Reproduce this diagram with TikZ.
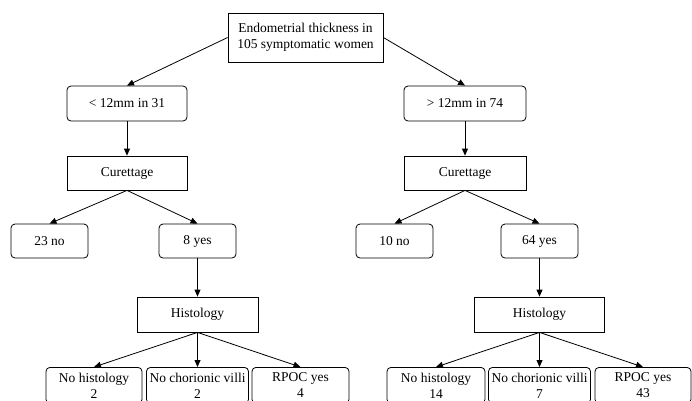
\documentclass[tikz,border=0pt]{standalone}
\usepackage{fontspec}
\setmainfont{Liberation Serif}
\usetikzlibrary{arrows.meta}

\tikzset{
  sqbox/.style={draw, line width=0.8pt, minimum height=35, inner sep=3pt,
    align=center, font=\fontsize{13.5}{16.5}\selectfont},
  rbox/.style={sqbox, rounded corners=4pt},
  low/.style={rbox, anchor=north, minimum height=36, inner ysep=0.5pt,
    font=\fontsize{13.5}{16}\selectfont},
  link/.style={-{Triangle[length=7pt,width=6pt]}, line width=0.8pt}
}

\begin{document}
\begin{tikzpicture}[x=1pt, y=-1pt]
    \clip (0,0) rectangle (692,400);

    % root
    \node[sqbox, minimum width=155, minimum height=49] (top) at (305.5,37.5)
        {Endometrial thickness in\\105 symptomatic women};

    % left branch
    \node[rbox, minimum width=120] (lt) at (127,103.5) {< 12mm in 31};
    \node[sqbox, minimum width=120, minimum height=34] (lcur) at (127,173) {Curettage};
    \node[rbox, minimum width=77, minimum height=34] (lno) at (49.5,241) {23 no};
    \node[rbox, minimum width=77, minimum height=34] (lyes) at (197.5,241) {8 yes};
    \node[sqbox, minimum width=121] (lhist) at (197.5,314.5) {Histology};
    \node[low, minimum width=96] (lnh) at (94,367) {No histology\\2};
    \node[low, minimum width=98] (lnc) at (197.5,367) {No chorionic villi\\2};
    \node[low, minimum width=97] (lrp) at (300.5,367) {RPOC yes\\4};

    % right branch
    \node[rbox, minimum width=122] (rt) at (465,103.5) {> 12mm in 74};
    \node[sqbox, minimum width=122, minimum height=34] (rcur) at (465,173) {Curettage};
    \node[rbox, minimum width=77, minimum height=34] (rno) at (394.5,241) {10 no};
    \node[rbox, minimum width=77, minimum height=34] (ryes) at (539.5,241) {64 yes};
    \node[sqbox, minimum width=130] (rhist) at (539.5,314.5) {Histology};
    \node[low, minimum width=98] (rnh) at (436,367) {No histology\\14};
    \node[low, minimum width=97] (rnc) at (539.5,367) {No chorionic villi\\7};
    \node[low, minimum width=96] (rrp) at (643,367) {RPOC yes\\43};

    % arrows
    \draw[link] (top.west) -- (lt.north);
    \draw[link] (top.east) -- (rt.north);
    \foreach \s in {l,r} {
        \draw[link] (\s t.south) -- (\s cur.north);
        \draw[link] (\s cur.south) -- (\s no.north);
        \draw[link] (\s cur.south) -- (\s yes.north);
        \draw[link] (\s yes.south) -- (\s hist.north);
        \foreach \b in {nh,nc,rp}
            \draw[link] (\s hist.south) -- (\s\b.north);
    }
\end{tikzpicture}
\end{document}
